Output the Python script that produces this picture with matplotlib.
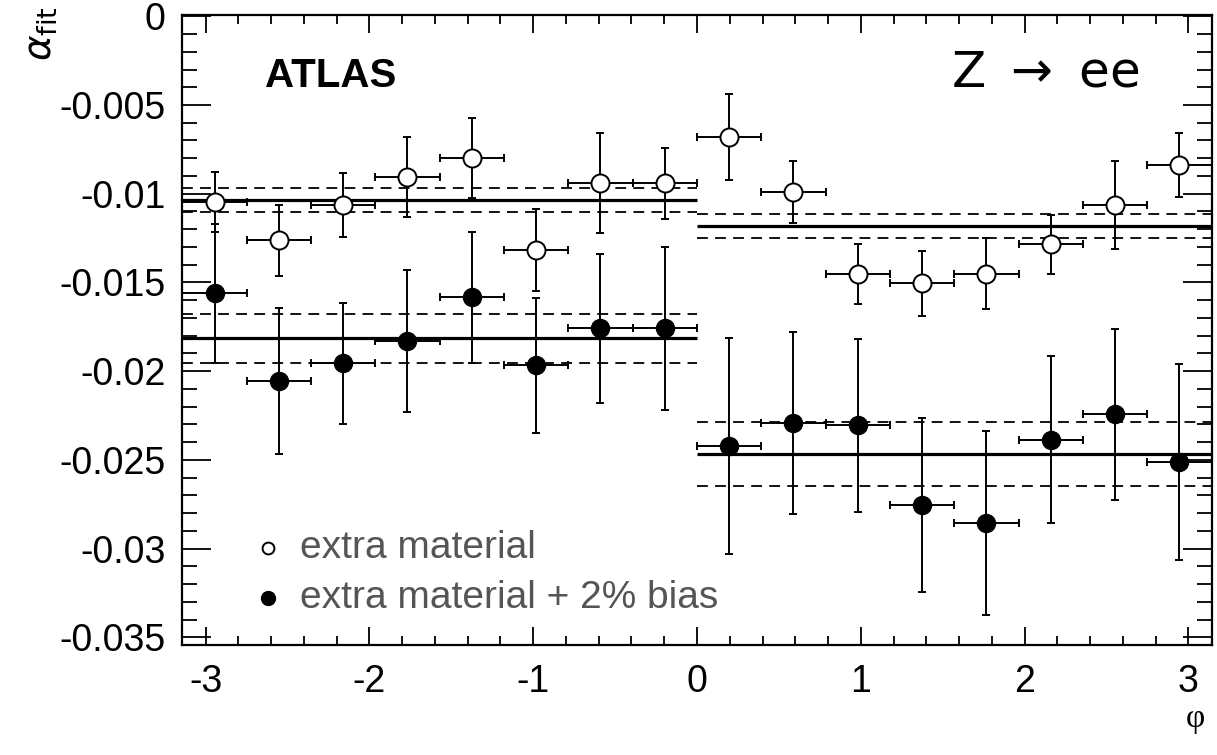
import numpy as np
import matplotlib
matplotlib.use("Agg")
import matplotlib.pyplot as plt
from matplotlib.ticker import MultipleLocator, FuncFormatter

plt.rcParams['font.family'] = ['Liberation Sans', 'DejaVu Sans']
plt.rcParams['axes.unicode_minus'] = False

# data
phi = [-2.945, -2.553, -2.160, -1.767, -1.374, -0.982, -0.589, -0.196,
       0.196, 0.589, 0.982, 1.374, 1.767, 2.160, 2.553, 2.945]
phi_halfwidth = 0.19635

alpha_mat = [-0.01045, -0.01261, -0.01064, -0.00904, -0.00799, -0.01318, -0.00940, -0.00940,
             -0.00680, -0.00989, -0.01451, -0.01505, -0.01451, -0.01286, -0.01063, -0.00836]
err_mat = [0.0017, 0.0020, 0.0018, 0.00225, 0.00225, 0.0023, 0.0028, 0.0020,
           0.0024, 0.00175, 0.0017, 0.00185, 0.0020, 0.00165, 0.0025, 0.0018]

alpha_bias = [-0.01562, -0.02054, -0.01956, -0.01828, -0.01584, -0.01966, -0.01759, -0.01759,
              -0.02423, -0.02292, -0.02306, -0.02752, -0.02855, -0.02386, -0.02244, -0.02512]
err_bias = [0.0039, 0.0041, 0.0034, 0.0040, 0.0037, 0.0038, 0.0042, 0.0046,
            0.0061, 0.0051, 0.0049, 0.0049, 0.0052, 0.0047, 0.0048, 0.0055]

# constant fits per half (phi < 0, phi > 0)
half_lo = [-np.pi, 0.0]
half_hi = [0.0, np.pi]
fit_mat = [-0.01036, -0.01182]
fit_mat_err = [0.00069, 0.00066]
fit_bias = [-0.01815, -0.02467]
fit_bias_err = [0.0014, 0.0018]

fig = plt.figure(figsize=(12.17, 7.55), dpi=100)
ax = fig.add_axes([0.1498, 0.1457, 0.8458, 0.8344])

# fit lines
for fits, errs in [(fit_mat, fit_mat_err), (fit_bias, fit_bias_err)]:
    for lo, hi, f, e in zip(half_lo, half_hi, fits, errs):
        ax.hlines(f, lo, hi, color='black', lw=2.3, zorder=2)
        ax.hlines([f - e, f + e], lo, hi, color='black', lw=1.3,
                  linestyles=(0, (6, 4)), zorder=2)

ax.errorbar(phi, alpha_mat, yerr=err_mat, xerr=phi_halfwidth, fmt='o',
            mfc='white', mec='black', mew=1.4, ms=13, color='black',
            elinewidth=1.4, capsize=3, capthick=1.4, zorder=3)
ax.errorbar(phi, alpha_bias, yerr=err_bias, xerr=phi_halfwidth, fmt='o',
            mfc='black', mec='black', ms=13, color='black',
            elinewidth=1.4, capsize=3, capthick=1.4, zorder=3)

ax.set_xlim(-np.pi, np.pi)
ax.set_ylim(-0.03543, 0.00007)

ax.xaxis.set_major_locator(MultipleLocator(1))
ax.xaxis.set_minor_locator(MultipleLocator(0.2))
ax.yaxis.set_major_locator(MultipleLocator(0.005))
ax.yaxis.set_minor_locator(MultipleLocator(0.001))


def yfmt(v, pos):
    if abs(v) < 1e-9:
        return '0'
    return f'{v:g}'


ax.yaxis.set_major_formatter(FuncFormatter(yfmt))
ax.xaxis.set_major_formatter(FuncFormatter(lambda v, p: f'{v:.0f}' if abs(v) > 1e-9 else '0'))

ax.tick_params(axis='both', which='both', direction='in', top=True, right=True,
               width=1.3, labelsize=27)
ax.tick_params(axis='y', which='major', length=21, pad=12)
ax.tick_params(axis='y', which='minor', length=11)
ax.tick_params(axis='x', which='major', length=13, pad=14)
ax.tick_params(axis='x', which='minor', length=6.5)
for s in ax.spines.values():
    s.set_linewidth(1.6)

# labels
ax.text(0.080, 0.886, 'ATLAS', transform=ax.transAxes, fontsize=29,
        fontweight='bold', ha='left', va='baseline')
ax.text(0.930, 0.886, r'Z $\rightarrow$ ee', transform=ax.transAxes, fontsize=36,
        family='DejaVu Sans', ha='right', va='baseline')

# legend
leg_x = 0.0832
ax.plot([leg_x], [0.154], 'o', transform=ax.transAxes, ms=8.5, mfc='white',
        mec='black', mew=1.4, clip_on=False)
ax.plot([leg_x], [0.0746], 'o', transform=ax.transAxes, ms=10, mfc='black',
        mec='black', clip_on=False)
ax.text(0.114, 0.154, 'extra material', transform=ax.transAxes, fontsize=28,
        color='#555555', ha='left', va='center')
ax.text(0.114, 0.0746, 'extra material + 2% bias', transform=ax.transAxes, fontsize=28,
        color='#555555', ha='left', va='center')

fig.text(42 / 1217, 1 - 34 / 755, r'$\alpha_{\rm fit}$', rotation=90, fontsize=28,
         ha='center', va='center')
fig.text(1195 / 1217, 1 - 719 / 755, 'φ', family='Liberation Serif', fontsize=24,
         ha='center', va='center')

fig.savefig('out.png', dpi=100)
